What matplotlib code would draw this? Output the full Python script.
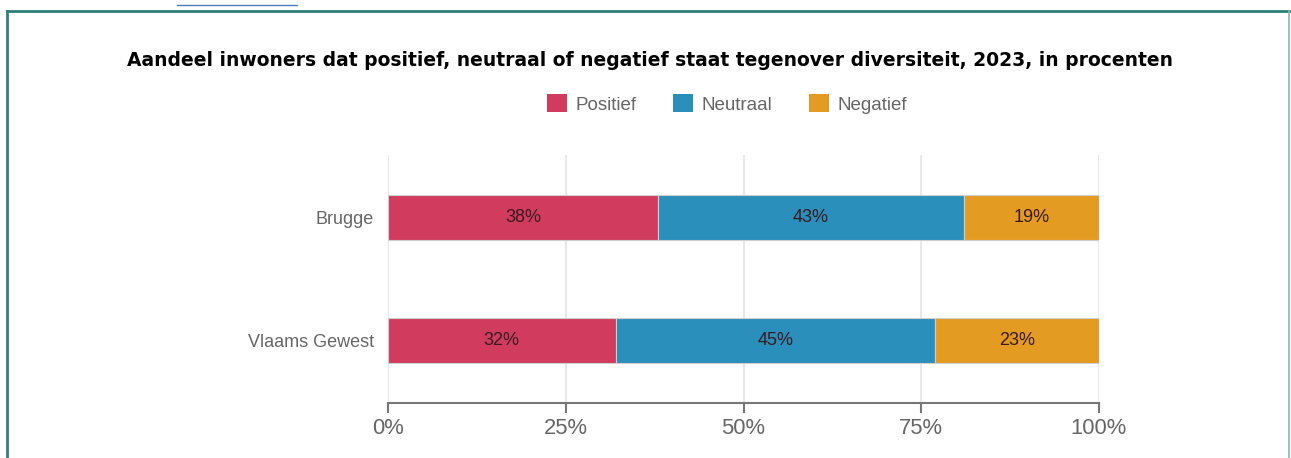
import matplotlib
matplotlib.use("Agg")
import matplotlib.pyplot as plt
from matplotlib.lines import Line2D
from matplotlib.patches import Rectangle

categories = ["Vlaams Gewest", "Brugge"]
series = ["Positief", "Neutraal", "Negatief"]
positief = [32, 38]
neutraal = [45, 43]
negatief = [23, 19]
colors = ["#D13C5E", "#2A8FBA", "#E49B22"]
xticks = [0, 25, 50, 75, 100]
xticklabels = ["0%", "25%", "50%", "75%", "100%"]
title = "Aandeel inwoners dat positief, neutraal of negatief staat tegenover diversiteit, 2023, in procenten"

plt.rcParams["font.family"] = ["Liberation Sans", "DejaVu Sans"]

W, H = 1291, 458
fig = plt.figure(figsize=(W / 100, H / 100), dpi=100)
fig.patch.set_facecolor("white")

ax = fig.add_axes([388 / W, 1 - 403 / H, (1099 - 388) / W, (403 - 155) / H])
ax.set_xlim(0, 100)
ax.set_ylim(-0.508, 1.508)

ypos = list(range(len(categories)))
left = [0] * len(categories)
for name, vals, col in zip(series, [positief, neutraal, negatief], colors):
    ax.barh(ypos, vals, left=left, height=0.366, color=col, edgecolor="#cfcfcf",
            linewidth=0.8, label=name, zorder=3)
    for y, l, v in zip(ypos, left, vals):
        ax.text(l + v / 2, y, f"{v}%", ha="center", va="center", fontsize=13,
                color="#3a1a22", zorder=4)
    left = [a + b for a, b in zip(left, vals)]

ax.set_yticks(ypos)
ax.set_yticklabels(categories, fontsize=13, color="#666666")
ax.tick_params(axis="y", length=0, pad=10)
ax.set_xticks(xticks)
ax.set_xticklabels(xticklabels, fontsize=15.8, color="#666666")
ax.tick_params(axis="x", length=7, width=1.5, color="#777777", pad=4)
ax.grid(axis="x", color="#e8e8e8", linewidth=1.5, zorder=0)
for s in ["top", "right", "left"]:
    ax.spines[s].set_visible(False)
ax.spines["bottom"].set_color("#777777")
ax.spines["bottom"].set_linewidth(1.5)

fig.text(650 / W, 1 - 60 / H, title, ha="center", va="center", fontsize=13.5,
         fontweight="bold", color="black", family="DejaVu Sans")

handles = [Rectangle((0, 0), 1, 1, facecolor=c, edgecolor="none") for c in colors]
fig.legend(handles, series, loc="center", bbox_to_anchor=(727 / W, 1 - 104 / H),
           ncol=3, frameon=False, fontsize=13.5, labelcolor="#666666",
           handlelength=1.07, handleheight=1.07, columnspacing=1.95, handletextpad=0.45)

teal = "#2E7E7A"
fig.add_artist(Line2D([7 / W, 7 / W], [0, 1 - 11 / H], color=teal, linewidth=2,
                      transform=fig.transFigure))
fig.add_artist(Line2D([7 / W, 1289 / W], [1 - 11 / H, 1 - 11 / H], color=teal, linewidth=2,
                      transform=fig.transFigure))
fig.add_artist(Line2D([1289 / W, 1289 / W], [0, 1 - 11 / H], color="#7fb8b5", linewidth=1.2,
                      transform=fig.transFigure))
fig.add_artist(Line2D([177 / W, 297 / W], [1 - 5 / H, 1 - 5 / H], color="#4a7fc0", linewidth=1,
                      transform=fig.transFigure))

fig.savefig("out.png", dpi=100)
